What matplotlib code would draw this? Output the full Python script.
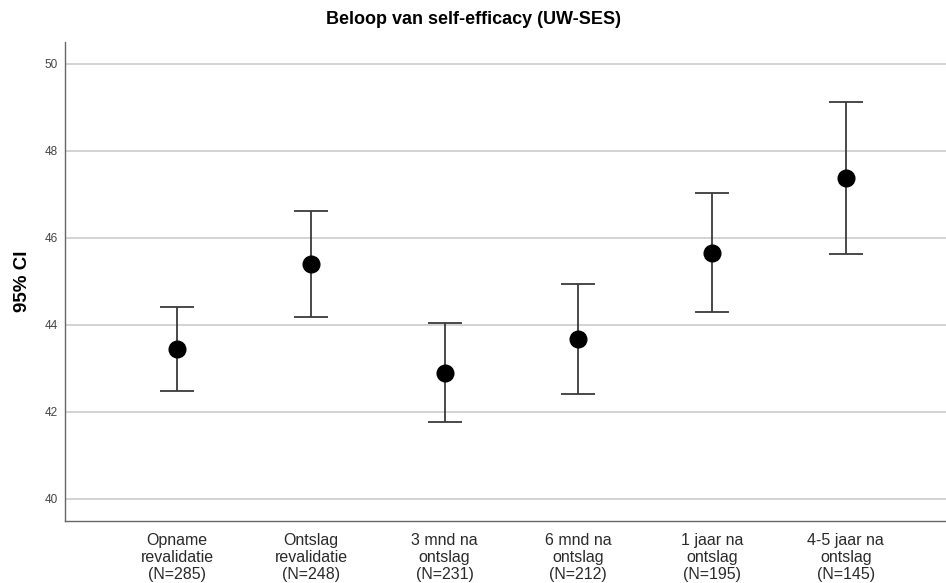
import matplotlib
matplotlib.use("Agg")
import matplotlib.pyplot as plt
import numpy as np

plt.rcParams['font.family'] = ['Liberation Sans', 'DejaVu Sans']

categories = ["Opname\nrevalidatie\n(N=285)", "Ontslag\nrevalidatie\n(N=248)",
              "3 mnd na\nontslag\n(N=231)", "6 mnd na\nontslag\n(N=212)",
              "1 jaar na\nontslag\n(N=195)", "4-5 jaar na\nontslag\n(N=145)"]
means = [43.45, 45.40, 42.90, 43.67, 45.65, 47.38]
ci_low = [42.48, 44.19, 41.77, 42.42, 44.29, 45.62]
ci_high = [44.42, 46.61, 44.04, 44.93, 47.02, 49.13]
yticks = [40, 42, 44, 46, 48, 50]

fig = plt.figure(figsize=(9.46, 5.83), dpi=100)
ax = fig.add_axes([0.0687, 0.107, 0.9313, 0.821])

x = np.arange(len(categories))
means = np.array(means)
err = [means - np.array(ci_low), np.array(ci_high) - means]

ax.errorbar(x, means, yerr=err, fmt='o', color='black', markersize=12,
            ecolor='#3a3a3a', elinewidth=1.3, capsize=12, capthick=1.3, zorder=3)

ax.set_xlim(-0.84, 5.75)
ax.set_ylim(39.5, 50.5)
ax.set_yticks(yticks)
ax.set_yticklabels([str(t) for t in yticks], fontsize=8.5, color='#444444')
ax.set_xticks(x)
ax.set_xticklabels(categories, fontsize=11.5, color='#2a2a2a', linespacing=1.15)
ax.tick_params(axis='y', length=0, pad=5)
ax.tick_params(axis='x', length=0, pad=9)

ax.grid(axis='y', color='#cccccc', linewidth=1.2)
ax.set_axisbelow(True)
for s in ['top', 'right']:
    ax.spines[s].set_visible(False)
for s in ['left', 'bottom']:
    ax.spines[s].set_color('#666666')
    ax.spines[s].set_linewidth(1.0)

ax.set_ylabel("95% CI", fontsize=13.5, fontweight='bold', labelpad=10)
fig.text(0.5, 0.966, "Beloop van self-efficacy (UW-SES)", ha='center', va='center',
         fontsize=13, fontweight='bold')

fig.savefig("out.png", dpi=100)
